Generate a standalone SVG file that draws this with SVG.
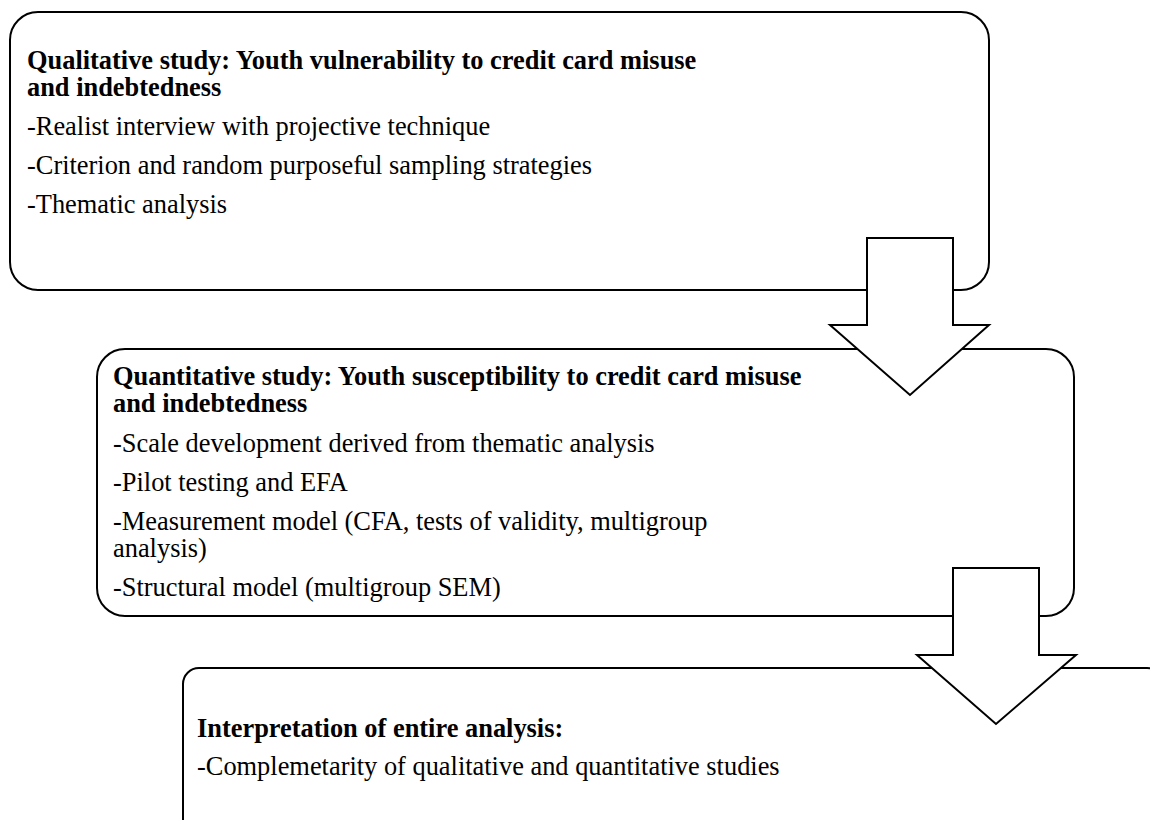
<svg xmlns="http://www.w3.org/2000/svg" width="1150" height="820" viewBox="0 0 1150 820">
<style>
.box{fill:#fff;stroke:#000;stroke-width:2}
.arr{fill:#fff;stroke:#000;stroke-width:2;stroke-linejoin:miter}
text{font-family:"Liberation Serif","Times New Roman",serif;font-size:26.4px;fill:#000}
.b{font-weight:bold}
</style>
<rect width="1150" height="820" fill="#fff"/>
<g id="node-qualitative">
<rect class="box" x="10" y="12" width="979" height="278" rx="28" ry="28"/>
<text class="b" x="27" y="69">Qualitative study: Youth vulnerability to credit card misuse</text>
<text class="b" x="27" y="96">and indebtedness</text>
<text x="27" y="135">-Realist interview with projective technique</text>
<text x="27" y="174">-Criterion and random purposeful sampling strategies</text>
<text x="27" y="213">-Thematic analysis</text>
</g>
<g id="node-quantitative">
<rect class="box" x="97" y="349" width="977" height="267" rx="28" ry="28"/>
<text class="b" x="113" y="385">Quantitative study: Youth susceptibility to credit card misuse</text>
<text class="b" x="113" y="412">and indebtedness</text>
<text x="113" y="452">-Scale development derived from thematic analysis</text>
<text x="113" y="491">-Pilot testing and EFA</text>
<text x="113" y="530">-Measurement model (CFA, tests of validity, multigroup</text>
<text x="113" y="557">analysis)</text>
<text x="113" y="596">-Structural model (multigroup SEM)</text>
</g>
<g id="node-interpretation">
<rect class="box" x="183" y="668" width="980" height="200" rx="16" ry="16"/>
<text class="b" x="197" y="737">Interpretation of entire analysis:</text>
<text x="197" y="775">-Complemetarity of qualitative and quantitative studies</text>
</g>
<g id="connectors">
<polygon class="arr" points="867,238 953,238 953,325 989,325 910,395 830,325 867,325"/>
<polygon class="arr" points="953,568 1039,568 1039,655 1076,655 996,724 917,655 953,655"/>
</g>
</svg>
